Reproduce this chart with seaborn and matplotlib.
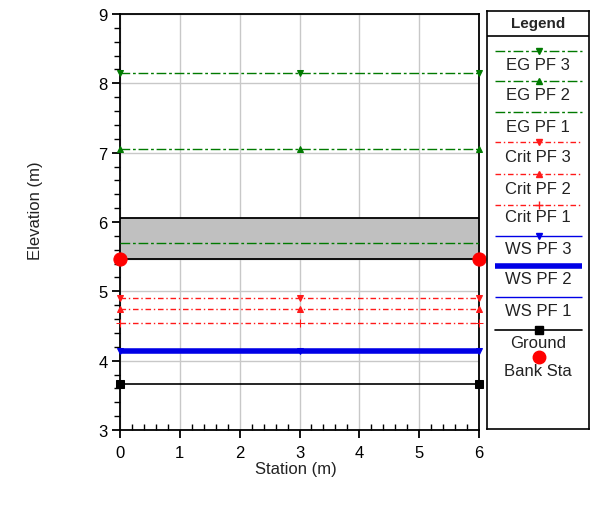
import matplotlib
matplotlib.use("Agg")
import matplotlib.pyplot as plt
import seaborn as sns
import pandas as pd
import numpy as np

# ---- data ----
stations = [0, 3, 6]
profiles = ["EG PF 3", "EG PF 2", "EG PF 1", "Crit PF 3", "Crit PF 2", "Crit PF 1",
            "WS PF 3", "WS PF 2", "WS PF 1"]
elevations = [8.15, 7.05, 5.70, 4.91, 4.75, 4.54, 4.14, 4.14, 4.14]
ground_sta = [0, 6]
ground_elev = [3.66, 3.66]
bank_sta = [0, 6]
bank_elev = [5.46, 5.46]
deck_sta = [0, 6]
deck_low = [5.46, 5.46]
deck_high = [6.06, 6.06]
legend_labels = profiles + ["Ground", "Bank Sta"]

green = "#007a00"
red = "#ff1a1a"
blue = "#0000e6"
styles = {
    "EG PF 3": dict(color=green, ls=(0, (7, 2, 2, 2)), lw=1.0, marker="v", ms=5),
    "EG PF 2": dict(color=green, ls=(0, (7, 2, 2, 2)), lw=1.0, marker="^", ms=5),
    "EG PF 1": dict(color=green, ls=(0, (7, 2, 2, 2)), lw=1.0, marker=None, ms=5),
    "Crit PF 3": dict(color=red, ls=(0, (4, 2, 1, 2)), lw=1.0, marker="v", ms=5),
    "Crit PF 2": dict(color=red, ls=(0, (4, 2, 1, 2)), lw=1.0, marker="^", ms=5),
    "Crit PF 1": dict(color=red, ls=(0, (4, 2, 1, 2)), lw=1.0, marker="+", ms=6),
    "WS PF 3": dict(color=blue, ls="-", lw=1.0, marker="v", ms=4),
    "WS PF 2": dict(color=blue, ls="-", lw=4.0, marker=None, ms=4),
    "WS PF 1": dict(color=blue, ls="-", lw=1.0, marker=None, ms=4),
}

rows = []
for p, e in zip(profiles, elevations):
    for s in stations:
        rows.append({"Station": s, "Elevation": e, "Profile": p})
df = pd.DataFrame(rows)
gdf = pd.DataFrame({"Station": ground_sta, "Elevation": ground_elev})
bdf = pd.DataFrame({"Station": bank_sta, "Elevation": bank_elev})

sns.set_theme(style="white")
plt.rcParams["font.family"] = ["Liberation Sans", "DejaVu Sans"]

fig = plt.figure(figsize=(5.9, 5.06), dpi=100)
ax = fig.add_axes([120 / 590, 1 - 431 / 506, 359 / 590, 416 / 506])

# deck (grey box)
ax.fill_between(deck_sta, deck_low, deck_high, color="#c0c0c0", zorder=1)
ax.plot(deck_sta, deck_low, color="black", lw=1.3, zorder=2)
ax.plot(deck_sta, deck_high, color="black", lw=1.3, zorder=2)

for p in profiles:
    st = styles[p]
    sub = df[df["Profile"] == p]
    sns.lineplot(data=sub, x="Station", y="Elevation", ax=ax, color=st["color"],
                 linestyle=st["ls"], linewidth=st["lw"], marker=st["marker"],
                 markersize=st["ms"], markeredgecolor=st["color"], zorder=3,
                 legend=False, estimator=None, clip_on=False,
                 solid_capstyle="butt")

sns.lineplot(data=gdf, x="Station", y="Elevation", ax=ax, color="black", lw=1.2,
             marker="s", markersize=6, markeredgecolor="black", zorder=4,
             legend=False, estimator=None, clip_on=False)
sns.scatterplot(data=bdf, x="Station", y="Elevation", ax=ax, color="red", s=90,
                edgecolor="red", zorder=5, legend=False, clip_on=False)

ax.set_xlim(0, 6)
ax.set_ylim(3, 9)
ax.set_xticks(range(0, 7))
ax.set_yticks(range(3, 10))
ax.set_xticks(np.arange(0, 6.01, 0.2), minor=True)
ax.set_yticks(np.arange(3, 9.01, 0.2), minor=True)
ax.grid(True, which="major", color="#c8c8c8", lw=1.0)
ax.set_axisbelow(True)
for sp in ax.spines.values():
    sp.set_color("black")
    sp.set_linewidth(1.3)
ax.tick_params(which="major", direction="out", length=6, width=1.3, colors="black",
               labelsize=12, left=True, bottom=True, pad=3)
ax.tick_params(axis="x", which="major", pad=5)
ax.tick_params(which="minor", direction="out", length=4, width=1.0, colors="black",
               left=True, bottom=True)
ax.tick_params(axis="x", which="minor", direction="in")
ax.set_xlabel("Station (m)", fontsize=12, color="#222222")
ax.set_ylabel("Elevation (m)", fontsize=12, color="#222222")
ax.xaxis.set_label_coords(0.49, -0.075)
ax.yaxis.set_label_coords(-0.215, 0.53)

# ---- legend panel ----
lax = fig.add_axes([487 / 590, 1 - 430 / 506, 102 / 590, 418 / 506])
lax.set_xlim(487, 589)
lax.set_ylim(430, 12)
lax.set_xticks([])
lax.set_yticks([])
for sp in lax.spines.values():
    sp.set_color("black")
    sp.set_linewidth(1.2)
lax.text(538, 24, "Legend", ha="center", va="center", fontsize=11, fontweight="bold")
lax.plot([487, 589], [37, 37], color="black", lw=1.2)
line_y = [52, 82, 113, 143, 175, 206, 237, 267, 298, 331]
text_y = [65, 95, 127, 157, 189, 218, 250, 280, 312, 343]
for p, ly, ty in zip(legend_labels[:9], line_y, text_y):
    st = styles[p]
    lax.plot([495, 582], [ly, ly], color=st["color"], ls=st["ls"], lw=st["lw"],
             solid_capstyle="butt")
    if st["marker"]:
        lax.plot([538.5], [ly], color=st["color"], marker=st["marker"], ms=st["ms"],
                 ls="none")
    lax.text(538, ty, p, ha="center", va="center", fontsize=12, color="#222222")
lax.plot([495, 582], [line_y[9], line_y[9]], color="black", lw=1.2)
lax.plot([538.5], [line_y[9]], marker="s", color="black", ms=6, ls="none")
lax.text(538, text_y[9], "Ground", ha="center", va="center", fontsize=12, color="#222222")
lax.plot([538.5], [358], marker="o", color="red", ms=9, ls="none")
lax.text(538, 372, "Bank Sta", ha="center", va="center", fontsize=12, color="#222222")

fig.savefig("out.png", dpi=100)
